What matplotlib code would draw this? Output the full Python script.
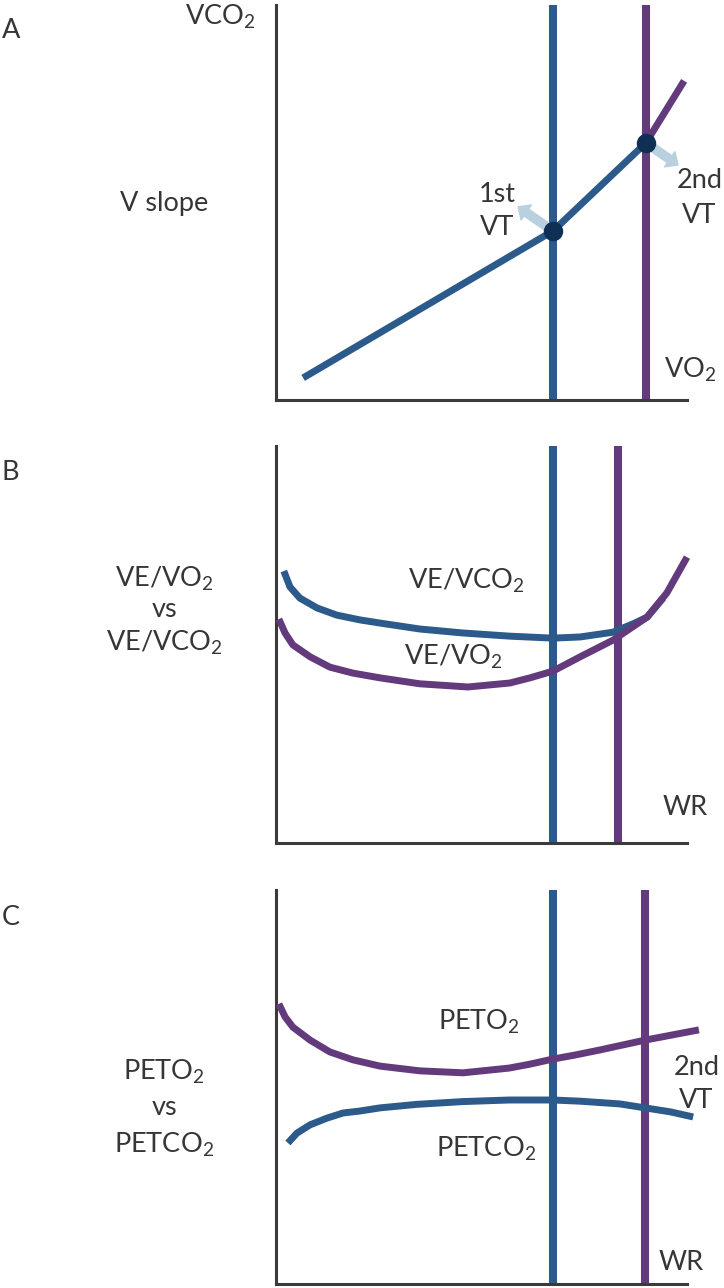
import matplotlib
matplotlib.use("Agg")
import matplotlib.pyplot as plt
from matplotlib.patches import FancyArrowPatch

# region data (arbitrary units, 0-100 on both axes of every panel)
# A: V slope, VCO2 vs VO2
vslope_x = [6.6, 67.4, 90.0]
vslope_y = [5.6, 42.8, 65.1]
above_vt2_x = [90.0, 99.3]
above_vt2_y = [65.1, 80.8]
a_vt = [67.4, 90.0]

# B: ventilatory equivalents vs work rate
b_vt = [67.4, 83.2]
vevco2_x = [1.9, 3.4, 5.8, 10.0, 14.8, 20.4, 25.3, 35.0, 45.5, 56.9, 67.4, 74.0, 82.0, 87.3, 90.3, 94.2]
vevco2_y = [68.5, 64.5, 61.7, 59.2, 57.4, 56.2, 55.4, 53.9, 52.9, 52.1, 51.6, 51.9, 53.1, 55.4, 56.9, 61.7]
vevo2_x = [0.7, 2.2, 4.1, 8.3, 13.1, 18.7, 25.3, 35.0, 46.7, 56.9, 61.8, 67.4, 74.0, 82.0, 90.3, 95.1, 100.0]
vevo2_y = [56.4, 52.9, 49.9, 46.9, 44.3, 42.8, 41.6, 40.1, 39.3, 40.3, 41.6, 43.3, 46.9, 51.1, 56.9, 63.0, 72.0]

# C: end-tidal pressures vs work rate
c_vt = [67.4, 89.8]
peto2_x = [0.7, 2.2, 4.1, 8.3, 13.1, 18.7, 25.3, 35.0, 45.5, 56.7, 61.8, 67.4, 72.7, 78.8, 89.8, 102.9]
peto2_y = [71.1, 67.8, 65.2, 61.9, 58.9, 56.9, 55.3, 54.1, 53.6, 54.8, 55.8, 57.1, 58.1, 59.4, 61.9, 64.5]
petco2_x = [2.9, 5.1, 8.3, 12.4, 16.3, 20.4, 25.3, 34.3, 45.5, 56.7, 67.4, 74.0, 83.7, 89.8, 95.9, 101.5]
petco2_y = [35.8, 38.3, 40.4, 42.1, 43.4, 43.9, 44.7, 45.6, 46.3, 46.7, 46.7, 46.4, 45.7, 44.7, 43.7, 42.4]
# endregion

# region style
W, H = 724, 1288
BLUE = "#2b5a8b"
PURPLE = "#633a7b"
DOT = "#0f3054"
ARROW = "#b9d0de"
INK = "#363636"
AXIS = "#3a3a3a"
FS = 19.5

plt.rcParams["font.family"] = ["Lato", "DejaVu Sans"]
plt.rcParams["mathtext.fontset"] = "custom"
plt.rcParams["mathtext.rm"] = "Lato"
plt.rcParams["mathtext.it"] = "Lato:italic"
plt.rcParams["mathtext.bf"] = "Lato:bold"
# endregion

fig = plt.figure(figsize=(W / 100, H / 100), dpi=100)


def panel(top, bottom):
    """axes box given in pixels (left/right shared by all panels)"""
    ax = fig.add_axes([276 / W, 1 - bottom / H, 411 / W, (bottom - top) / H])
    ax.set_xlim(0, 100)
    ax.set_ylim(0, 100)
    ax.set_xticks([])
    ax.set_yticks([])
    for s in ["top", "right"]:
        ax.spines[s].set_visible(False)
    for s in ["left", "bottom"]:
        ax.spines[s].set_linewidth(2.2)
        ax.spines[s].set_color(AXIS)
    ax.patch.set_alpha(0)
    return ax


def vt_lines(ax, xs):
    ax.axvline(xs[0], color=BLUE, lw=5.8, solid_capstyle="butt", zorder=2)
    ax.axvline(xs[1], color=PURPLE, lw=5.8, solid_capstyle="butt", zorder=2)


def curve(ax, x, y, c):
    ax.plot(x, y, color=c, lw=5, solid_capstyle="butt", solid_joinstyle="round",
            clip_on=False, zorder=3)


def put(x, y, s, ha="center", size=FS):
    fig.text(x / W, 1 - y / H, s, ha=ha, va="baseline", fontsize=size, color=INK)


# region panel A
axA = panel(5, 400)
vt_lines(axA, a_vt)
curve(axA, vslope_x, vslope_y, BLUE)
curve(axA, above_vt2_x, above_vt2_y, PURPLE)
# arrows pointing away from the two breakpoints
for (x0, y0), (x1, y1) in [((vslope_x[1], vslope_y[1]), (58.9, 48.9)),
                           ((vslope_x[2], vslope_y[2]), (97.8, 59.5))]:
    axA.add_patch(FancyArrowPatch((x0, y0), (x1, y1), color=ARROW, zorder=4,
                                  arrowstyle="simple,head_length=0.6,head_width=1.1,tail_width=0.5",
                                  mutation_scale=12, shrinkA=0, shrinkB=0))
axA.plot(vslope_x[1:], vslope_y[1:], "o", ms=13, color=DOT, zorder=5)

put(2, 38, "A", ha="left")
put(185, 25, r"VCO$_2$", ha="left")
put(164, 211, "V slope")
put(497, 202, "1st")
put(497, 235, "VT")
put(700, 188, "2nd")
put(699, 223, "VT")
put(664, 378, r"VO$_2$", ha="left")
# endregion

# region panel B
axB = panel(446, 843)
vt_lines(axB, b_vt)
curve(axB, vevco2_x, vevco2_y, BLUE)
curve(axB, vevo2_x, vevo2_y, PURPLE)

put(2, 480, "B", ha="left")
put(164, 587, r"VE/VO$_2$")
put(164, 617, "vs")
put(164, 651, r"VE/VCO$_2$")
put(466, 589, r"VE/VCO$_2$")
put(453, 665, r"VE/VO$_2$")
put(685, 815, "WR")
# endregion

# region panel C
axC = panel(890, 1284)
vt_lines(axC, c_vt)
curve(axC, peto2_x, peto2_y, PURPLE)
curve(axC, petco2_x, petco2_y, BLUE)

put(2, 925, "C", ha="left")
put(164, 1080, r"PETO$_2$")
put(164, 1115, "vs")
put(164, 1153, r"PETCO$_2$")
put(479, 1030, r"PETO$_2$")
put(486, 1157, r"PETCO$_2$")
put(697, 1075, "2nd")
put(696, 1108, "VT")
put(681, 1270, "WR")
# endregion

fig.savefig("out.png", dpi=100)
